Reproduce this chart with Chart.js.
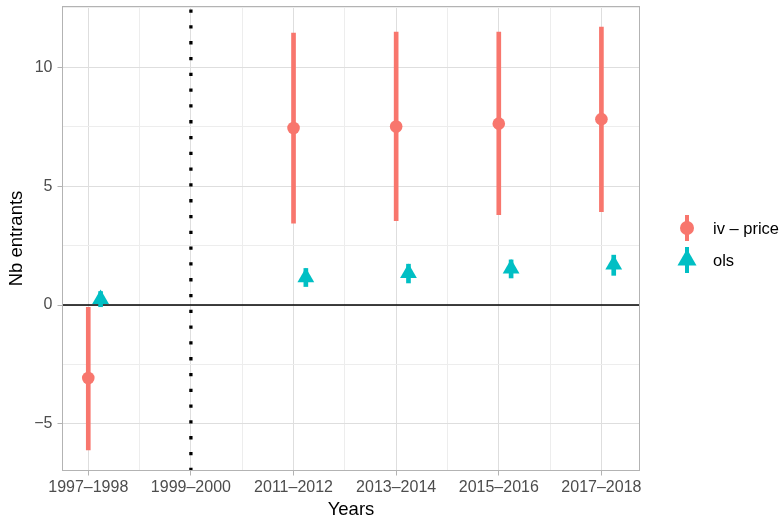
<!DOCTYPE html>
<html>
<head>
<meta charset="utf-8">
<script src="https://cdn.jsdelivr.net/npm/chart.js@4/dist/chart.umd.min.js"></script>
<style>
  html, body { margin: 0; padding: 0; background: #ffffff; }
  #wrap { position: relative; width: 782px; height: 518px; }
  #legend {
    position: absolute; left: 673px; top: 212px; white-space: nowrap;
    font-family: "Liberation Sans", Arial, sans-serif; font-size: 16.5px; color: #000;
  }
  .item { display: flex; align-items: center; height: 32px; }
  .item canvas { width: 28px; height: 32px; margin-right: 12px; flex: none; }
</style>
</head>
<body>
<div id="wrap">
  <canvas id="chart" width="782" height="518"></canvas>
  <div id="legend"></div>
</div>
<script>
// Periods on the horizontal axis
const categories = ['1997–1998', '1999–2000', '2011–2012', '2013–2014', '2015–2016', '2017–2018'];

// IV (price instrument) estimates with confidence bounds
const ivIndex    = [0, 2, 3, 4, 5];
const ivEstimate = [-3.07, 7.45, 7.51, 7.63, 7.82];
const ivLow      = [-6.09, 3.45, 3.55, 3.80, 3.93];
const ivHigh     = [-0.10, 11.44, 11.48, 11.48, 11.69];

// OLS estimates with confidence bounds
const olsIndex    = [0, 2, 3, 4, 5];
const olsEstimate = [0.25, 1.16, 1.34, 1.53, 1.70];
const olsLow      = [-0.07, 0.78, 0.93, 1.14, 1.25];
const olsHigh     = [0.57, 1.54, 1.72, 1.90, 2.10];
const olsDodge    = 0.12;

// Period marked by the dotted separator
const breakIndex = 1;

// Value-axis breaks
const yMajor = [-5, 0, 5, 10];
const yMinor = [-2.5, 2.5, 7.5, 12.5];

const COL_IV = '#F8766D';
const COL_OLS = '#00BFC4';
const FONT = '"Liberation Sans", Arial, sans-serif';

// Axis limits: data range padded by 5% on each side
function expand(lo, hi) { const r = hi - lo; return [lo - 0.05 * r, hi + 0.05 * r]; }
const allX = ivIndex.concat(olsIndex.map(i => i + olsDodge));
const allY = ivLow.concat(ivHigh, olsLow, olsHigh, ivEstimate, olsEstimate);
const [xMin, xMax] = expand(Math.min(...allX), Math.max(...allX));
const [yMin, yMax] = expand(Math.min(...allY), Math.max(...allY));

const xMajor = categories.map((_, i) => i);
const xMinor = categories.slice(1).map((_, i) => i + 0.5);

const ivPoints  = ivIndex.map((x, i) => ({ x, y: ivEstimate[i] }));
const ivRanges  = ivIndex.map((x, i) => ({ x, y: [ivLow[i], ivHigh[i]] }));
const olsPoints = olsIndex.map((x, i) => ({ x: x + olsDodge, y: olsEstimate[i] }));
const olsRanges = olsIndex.map((x, i) => ({ x: x + olsDodge, y: [olsLow[i], olsHigh[i]] }));

const isMajorX = v => xMajor.includes(v);
const isMajorY = v => yMajor.includes(v);

// Outline around the plotting panel
const panelBorder = {
  id: 'panelBorder',
  afterDraw(chart) {
    const { ctx, chartArea: a } = chart;
    ctx.save();
    ctx.strokeStyle = '#B3B3B3';
    ctx.lineWidth = 1;
    ctx.strokeRect(a.left + 0.5, a.top + 0.5, a.right - a.left - 1, a.bottom - a.top - 1);
    ctx.restore();
  }
};

new Chart(document.getElementById('chart'), {
  type: 'scatter',
  data: {
    datasets: [
      {
        type: 'line', label: 'break', order: 6, clip: 0,
        data: [{ x: breakIndex, y: yMin }, { x: breakIndex, y: yMax }],
        borderColor: '#000', borderWidth: 3.3, borderDash: [3.3, 12.5], borderCapStyle: 'butt',
        pointRadius: 0, showLine: true, fill: false
      },
      {
        type: 'line', label: 'zero', order: 5, clip: 0,
        data: [{ x: xMin - 1, y: 0 }, { x: xMax + 1, y: 0 }],
        borderColor: '#000', borderWidth: 1.6, pointRadius: 0, showLine: true, fill: false
      },
      {
        type: 'bar', label: 'iv – price range', order: 4, grouped: false,
        data: ivRanges, backgroundColor: COL_IV, borderWidth: 0, barThickness: 4
      },
      {
        type: 'scatter', label: 'iv – price', order: 3,
        data: ivPoints, backgroundColor: COL_IV, pointRadius: 6.3, pointBorderWidth: 0,
        pointStyle: 'circle'
      },
      {
        type: 'bar', label: 'ols range', order: 2, grouped: false,
        data: olsRanges, backgroundColor: COL_OLS, borderWidth: 0, barThickness: 4
      },
      {
        type: 'scatter', label: 'ols', order: 1,
        data: olsPoints, backgroundColor: COL_OLS, pointRadius: 9.7, pointBorderWidth: 0,
        pointStyle: 'triangle'
      }
    ]
  },
  options: {
    responsive: false,
    animation: false,
    events: [],
    devicePixelRatio: 1,
    layout: { autoPadding: false, padding: { left: 0, right: 142, top: 6, bottom: 0 } },
    plugins: { legend: { display: false }, tooltip: { enabled: false } },
    scales: {
      x: {
        type: 'linear', min: xMin, max: xMax, offset: false,
        afterBuildTicks: s => { s.ticks = xMajor.concat(xMinor).sort((a, b) => a - b).map(v => ({ value: v })); },
        afterFit: s => { s.height = 47; s.paddingLeft = 0; s.paddingRight = 0; },
        ticks: {
          autoSkip: false, maxRotation: 0, padding: 2.4,
          color: '#4D4D4D', font: { family: FONT, size: 16 },
          callback: v => (isMajorX(v) ? categories[v] : '')
        },
        grid: {
          offset: false,
          color: c => (isMajorX(c.tick.value) ? '#DEDEDE' : '#EDEDED'),
          lineWidth: 1,
          tickColor: c => (isMajorX(c.tick.value) ? '#B3B3B3' : 'rgba(0,0,0,0)'),
          tickLength: 4.5, tickWidth: 1
        },
        border: { display: false },
        title: {
          display: true, text: 'Years', color: '#000',
          font: { family: FONT, size: 18.5 }, padding: { top: 0, bottom: -2.6 }
        }
      },
      y: {
        type: 'linear', min: yMin, max: yMax,
        afterBuildTicks: s => { s.ticks = yMajor.concat(yMinor).sort((a, b) => a - b).map(v => ({ value: v })); },
        afterFit: s => { s.width = 62; s.paddingTop = 0; s.paddingBottom = 0; },
        ticks: {
          autoSkip: false, padding: 5,
          color: '#4D4D4D', font: { family: FONT, size: 16, lineHeight: 0.5 },
          callback: v => (isMajorY(v) ? String(v).replace('-', '\u2212') : '')
        },
        grid: {
          color: c => (isMajorY(c.tick.value) ? '#DEDEDE' : '#EDEDED'),
          lineWidth: 1,
          tickColor: c => (isMajorY(c.tick.value) ? '#B3B3B3' : 'rgba(0,0,0,0)'),
          tickLength: 4.5, tickWidth: 1
        },
        border: { display: false },
        title: {
          display: true, text: 'Nb entrants', color: '#000',
          font: { family: FONT, size: 18.5 }, padding: { top: 6, bottom: 0 }
        }
      }
    }
  },
  plugins: [panelBorder]
});

// Legend keys: vertical range line with the series marker
function keyGlyph(color, shape) {
  const cv = document.createElement('canvas');
  cv.width = 28; cv.height = 32;
  const g = cv.getContext('2d');
  const cx = 14, cy = 16;
  g.fillStyle = color;
  g.fillRect(cx - 2, cy - 13, 4, 26);
  g.beginPath();
  if (shape === 'circle') {
    g.arc(cx, cy, 7, 0, Math.PI * 2);
  } else {
    const r = 11;
    g.moveTo(cx, cy - r);
    g.lineTo(cx + r * Math.sin(2 * Math.PI / 3), cy + r / 2);
    g.lineTo(cx - r * Math.sin(2 * Math.PI / 3), cy + r / 2);
    g.closePath();
  }
  g.fill();
  return cv;
}
const legend = document.getElementById('legend');
[['iv – price', COL_IV, 'circle'], ['ols', COL_OLS, 'triangle']].forEach(([label, color, shape]) => {
  const row = document.createElement('div');
  row.className = 'item';
  row.appendChild(keyGlyph(color, shape));
  const span = document.createElement('span');
  span.textContent = label;
  row.appendChild(span);
  legend.appendChild(row);
});
</script>
</body>
</html>
